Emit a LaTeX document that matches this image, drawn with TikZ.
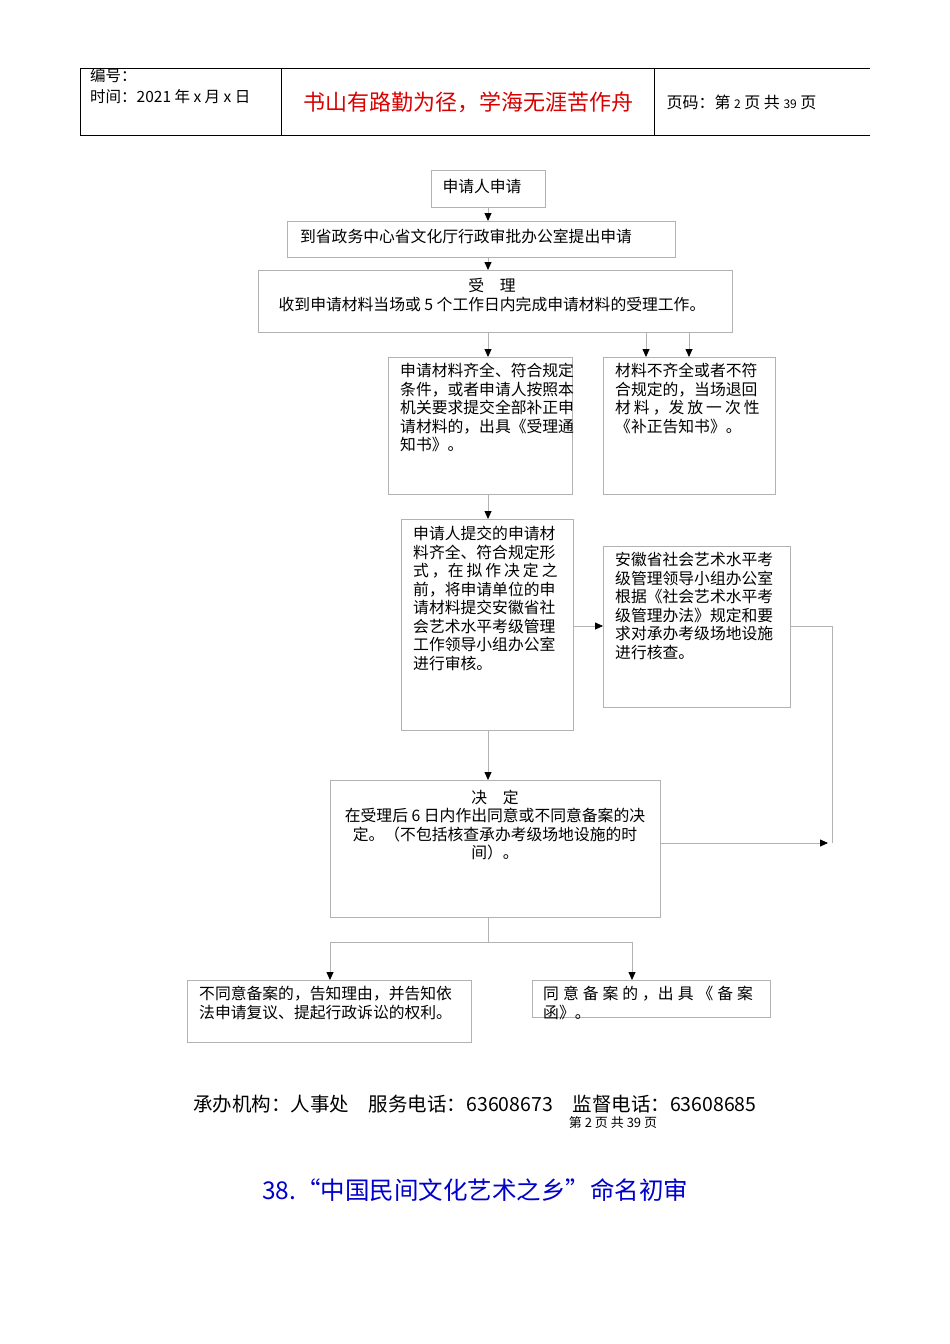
\documentclass[tikz,border=0pt]{standalone}
\usepackage{fontspec}
\setmainfont{Noto Sans CJK SC}
\usetikzlibrary{arrows.meta}
\newcommand\gp{\hspace{3pt}}
\newcommand\gq{\hspace{4pt}}
\begin{document}
\begin{tikzpicture}[x=1pt,y=-1pt,
  bx/.style={draw=black!30,line width=0.8pt},
  tx/.style={anchor=north west,align=left,font=\fontsize{15.8}{18.5}\selectfont,inner sep=0pt},
  ar/.style={draw=black!30,line width=0.8pt,-{Triangle[length=8pt,width=7pt,fill=black,color=black]}},
  ln/.style={draw=black!30,line width=0.8pt}]
\useasboundingbox (0,0) rectangle (950,1344);
\fill[white] (0,0) rectangle (950,1344);
% header
\draw[line width=0.8pt] (80,68)--(870,68) (80,135)--(870,135) (80,68)--(80,135) (281,68)--(281,135) (654,68)--(654,135);
\node[tx,font=\fontsize{15.5}{21}\selectfont] (h1) at (90,68) {编号：\\时间：2021 年 x 月 x 日};
\node[font=\fontsize{22}{26}\selectfont,text=red!85!black] (h2) at (468,102) {书山有路勤为径，学海无涯苦作舟};
\node[anchor=west,font=\fontsize{16}{19}\selectfont] (h3) at (663,102) {页码：第 {\fontsize{12}{12}\selectfont 2} 页 共 {\fontsize{12}{12}\selectfont 39} 页};
% boxes
\draw[bx] (431,170) rectangle (545,207); \node[font=\fontsize{15.8}{18}\selectfont] (b1) at (482,186) {申请人申请};
\draw[bx] (287,221) rectangle (675,257); \node[font=\fontsize{15.8}{18}\selectfont] (b2) at (466,236) {到省政务中心省文化厅行政审批办公室提出申请};
\draw[bx] (258,270) rectangle (732,332); \node[align=center,font=\fontsize{15.8}{19.5}\selectfont] (b3) at (492,295) {受\quad 理\\收到申请材料当场或 5 个工作日内完成申请材料的受理工作。};
\draw[bx] (388,357) rectangle (572,494); \node[tx] (b4) at (400,363) {申请材料齐全、符合规定\\条件，或者申请人按照本\\机关要求提交全部补正申\\请材料的，出具《受理通\\知书》。};
\draw[bx] (603,357) rectangle (775,494); \node[tx] (b5) at (615,363) {材料不齐全或者不符\\合规定的，当场退回\\材\gp 料\gp ，发\gp 放\gp 一\gp 次\gp 性\\《补正告知书》。};
\draw[bx] (401,519) rectangle (573,730); \node[tx] (b6) at (413,526) {申请人提交的申请材\\料齐全、符合规定形\\式\gp ，在\gp 拟\gp 作\gp 决\gp 定\gp 之\\前，将申请单位的申\\请材料提交安徽省社\\会艺术水平考级管理\\工作领导小组办公室\\进行审核。};
\draw[bx] (603,546) rectangle (790,707); \node[tx] (b7) at (615,552) {安徽省社会艺术水平考\\级管理领导小组办公室\\根据《社会艺术水平考\\级管理办法》规定和要\\求对承办考级场地设施\\进行核查。};
\draw[bx] (330,780) rectangle (660,917); \node[align=center,font=\fontsize{15.8}{18.5}\selectfont] (b8) at (495,825) {决\quad 定\\在受理后 6 日内作出同意或不同意备案的决\\定。（不包括核查承办考级场地设施的时\\间）。};
\draw[bx] (187,980) rectangle (471,1042); \node[tx] (b9) at (199,986) {不同意备案的，告知理由，并告知依\\法申请复议、提起行政诉讼的权利。};
\draw[bx] (532,980) rectangle (770,1017); \node[tx] (b10) at (543,986) {同\gq 意\gq 备\gq 案\gq 的\gq ，出\gq 具\gq 《\gq 备\gq 案\\函》。};
% connectors
\draw[ar] (488,207)--(488,221);
\draw[ar] (488,257)--(488,270);
\draw[ar] (488,332)--(488,357);
\draw[ar] (646,332)--(646,357);
\draw[ar] (689,332)--(689,357);
\draw[ar] (488,494)--(488,519);
\draw[ar] (573,626)--(603,626);
\draw[ar] (488,730)--(488,780);
\draw[ln] (790,626)--(832,626)--(832,843);
\draw[ar] (660,843)--(828,843);
\draw[ln] (488,917)--(488,942) (330,942)--(632,942);
\draw[ar] (330,942)--(330,980);
\draw[ar] (632,942)--(632,980);
% footer
\node[font=\fontsize{19.5}{22}\selectfont] (f1) at (475,1104) {承办机构：人事处\quad 服务电话：63608673\quad 监督电话：63608685};
\node[font=\fontsize{13}{14}\selectfont] (f2) at (613,1123) {第 2 页 共 39 页};
\node[font=\fontsize{24.5}{28}\selectfont,text=blue!80!black] (f3) at (475,1190) {38.“中国民间文化艺术之乡”命名初审};
\end{tikzpicture}
\end{document}
